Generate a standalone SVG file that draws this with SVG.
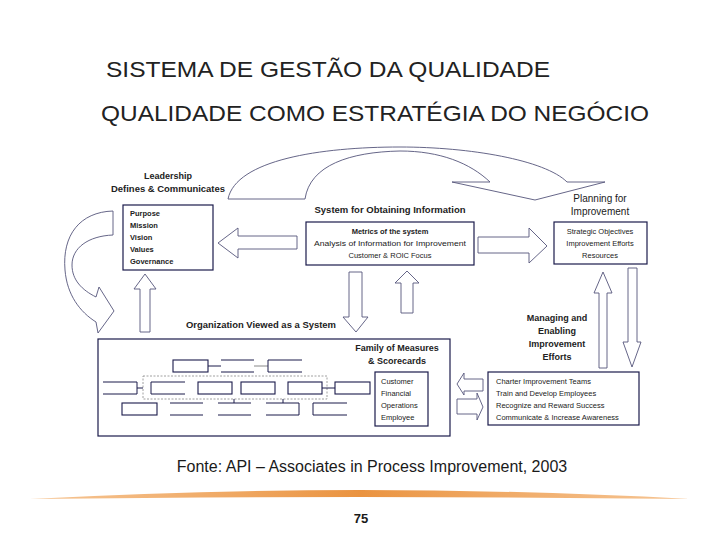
<svg xmlns="http://www.w3.org/2000/svg" width="720" height="540" viewBox="0 0 720 540">
<defs>
<style>
.t{font-family:"Liberation Sans",Arial,sans-serif;fill:#1a1a1a}
.title{font-size:22px;fill:#222}
.lbl{font-size:9px;font-weight:bold;fill:#222}
.sm{font-size:7.5px;fill:#222}
.box{fill:#fff;stroke:#1b1b4b;stroke-width:1.2}
.ob{fill:none;stroke:#1b1b4b;stroke-width:1.1}
.arr{fill:#fff;stroke:#55557a;stroke-width:0.9;stroke-linejoin:miter}
.ln{fill:none;stroke:#1b1b4b;stroke-width:1}
</style>
<linearGradient id="sw" x1="0" x2="1" y1="0" y2="0">
<stop offset="0" stop-color="#f0a050" stop-opacity="0.6"/>
<stop offset="0.5" stop-color="#ea9340"/>
<stop offset="1" stop-color="#f0a050" stop-opacity="0.6"/>
</linearGradient>
</defs>
<rect width="720" height="540" fill="#fff"/>
<text class="t title" x="106" y="77" textLength="444" lengthAdjust="spacingAndGlyphs">SISTEMA DE GESTÃO DA QUALIDADE</text>
<text class="t title" x="101" y="121" textLength="548" lengthAdjust="spacingAndGlyphs">QUALIDADE COMO ESTRATÉGIA DO NEGÓCIO</text>

<g id="connectors">
<path class="arr" d="M228,199 C236,160 320,147 400,147 C470,147 545,160 567,182 L605,182 L535,200 L452,182 L490,182 C470,163 440,151 400,151 C350,152 310,165 305,199 Z"/>
<path class="arr" d="M113,211 C80,212 62,235 65,270 C67,295 80,312 96,322 L98,333 L114,311 L99,287 L96,297 C82,290 72,280 72,265 C72,248 88,236 113,235 Z"/>
<path class="arr" d="M297,236 L238,236 L238,228 L218,243 L238,258 L238,249 L297,249 Z"/>
<path class="arr" d="M478,237 L529,237 L529,228 L547,246 L529,263 L529,253 L478,253 Z"/>
<path class="arr" d="M140,332 L140,289 L134,289 L145,274 L156,289 L150,289 L150,332 Z"/>
<path class="arr" d="M349,272 L362,272 L362,317 L368,317 L356,332 L343,317 L349,317 Z"/>
<path class="arr" d="M401,313 L401,283 L395,283 L407,271 L419,283 L413,283 L413,313 Z"/>
<path class="arr" d="M599,368 L599,293 L594,293 L603,272 L612,293 L607,293 L607,368 Z"/>
<path class="arr" d="M628,268 L637,268 L637,342 L641,342 L632,367 L623,342 L628,342 Z"/>
<path class="arr" d="M483,379 L464,379 L464,373 L457,384 L464,395 L464,391 L483,391 Z"/>
<path class="arr" d="M457,399 L477,399 L477,393 L483,407 L477,420 L477,414 L457,414 Z"/>
</g>

<g id="leadership">
<text class="t lbl" x="168" y="179" text-anchor="middle">Leadership</text>
<text class="t lbl" x="168" y="192" text-anchor="middle" textLength="114" lengthAdjust="spacingAndGlyphs">Defines &amp; Communicates</text>
</g>
<g id="purpose">
<rect class="box" x="123" y="205" width="90" height="65"/>
<text class="t sm" x="130" y="216" font-weight="bold">Purpose</text>
<text class="t sm" x="130" y="228" font-weight="bold">Mission</text>
<text class="t sm" x="130" y="240" font-weight="bold">Vision</text>
<text class="t sm" x="130" y="252" font-weight="bold">Values</text>
<text class="t sm" x="130" y="264" font-weight="bold">Governance</text>
</g>
<g id="system">
<text class="t lbl" x="390" y="213" text-anchor="middle" textLength="151" lengthAdjust="spacingAndGlyphs">System for Obtaining Information</text>
<rect class="box" x="306" y="222" width="168" height="43"/>
<text class="t sm" x="390" y="234" text-anchor="middle" font-weight="bold">Metrics of the system</text>
<text class="t sm" x="390" y="246" text-anchor="middle" textLength="152" lengthAdjust="spacingAndGlyphs">Analysis of Information for Improvement</text>
<text class="t sm" x="390" y="258" text-anchor="middle">Customer &amp; ROIC Focus</text>
</g>
<g id="planning">
<text class="t" x="600" y="202" text-anchor="middle" font-size="10">Planning for</text>
<text class="t" x="600" y="215" text-anchor="middle" font-size="10">Improvement</text>
<rect class="box" x="554" y="222" width="93" height="42"/>
<text class="t sm" x="600" y="234" text-anchor="middle">Strategic Objectives</text>
<text class="t sm" x="600" y="246" text-anchor="middle">Improvement Efforts</text>
<text class="t sm" x="600" y="258" text-anchor="middle">Resources</text>
</g>
<g id="organization">
<text class="t lbl" x="186" y="328" textLength="150" lengthAdjust="spacingAndGlyphs">Organization Viewed as a System</text>
<rect class="box" x="98" y="339" width="352" height="97"/>
<rect class="ob" x="173" y="360" width="35" height="12"/>
<path class="ln" d="M208,366 H221 M221,360 H254 M221,372 H254"/>
<path d="M254,366 H268" stroke="#888" stroke-width="1"/>
<path class="ln" d="M302,360 H268 V372 H302"/>
<rect x="143" y="376" width="184" height="23" fill="none" stroke="#888" stroke-width="0.8" stroke-dasharray="2,1.5"/>
<path class="ln" d="M103,382 H137 V394 H103 M137,388 H143"/>
<path class="ln" d="M185,382 H151 V394 H185"/>
<rect class="ob" x="198" y="382" width="34" height="12"/>
<rect class="ob" x="241" y="382" width="34" height="12"/>
<rect class="ob" x="288" y="382" width="34" height="12"/>
<path class="ln" d="M322,388 H335"/>
<rect class="ob" x="335" y="382" width="35" height="12"/>
<rect class="ob" x="122" y="403" width="35" height="12"/>
<path class="ln" d="M170,403 H203 M170,415 H203"/>
<path class="ln" d="M218,403 H251 M218,415 H251 M234,399 V403"/>
<path class="ln" d="M266,403 H299 V415 H266 M283,399 V403"/>
<path class="ln" d="M347,403 H313 V415 H347"/>
</g>
<g id="measures">
<text class="t lbl" x="397" y="351" text-anchor="middle">Family of Measures</text>
<text class="t lbl" x="397" y="364" text-anchor="middle">&amp; Scorecards</text>
<rect class="box" x="375" y="372" width="53" height="54"/>
<text class="t sm" x="381" y="384">Customer</text>
<text class="t sm" x="381" y="396">Financial</text>
<text class="t sm" x="381" y="408">Operations</text>
<text class="t sm" x="381" y="420">Employee</text>
</g>
<g id="managing">
<text class="t lbl" x="557" y="321" text-anchor="middle">Managing and</text>
<text class="t lbl" x="557" y="334" text-anchor="middle">Enabling</text>
<text class="t lbl" x="557" y="347" text-anchor="middle">Improvement</text>
<text class="t lbl" x="557" y="360" text-anchor="middle">Efforts</text>
</g>
<g id="actions">
<rect class="box" x="488" y="372" width="151" height="53"/>
<text class="t sm" x="496" y="384">Charter Improvement Teams</text>
<text class="t sm" x="496" y="396">Train and Develop Employees</text>
<text class="t sm" x="496" y="408">Recognize and Reward Success</text>
<text class="t sm" x="496" y="420">Communicate &amp; Increase Awareness</text>
</g>

<text class="t" x="372" y="472" text-anchor="middle" font-size="16" fill="#111">Fonte: API – Associates in Process Improvement, 2003</text>
<path d="M30,499 Q200,490 360,490 Q520,490 690,499 Q520,497 360,497 Q200,497 30,499 Z" fill="url(#sw)"/>
<text class="t" x="361" y="523" text-anchor="middle" font-size="13" font-weight="bold" fill="#777">75</text>
</svg>
